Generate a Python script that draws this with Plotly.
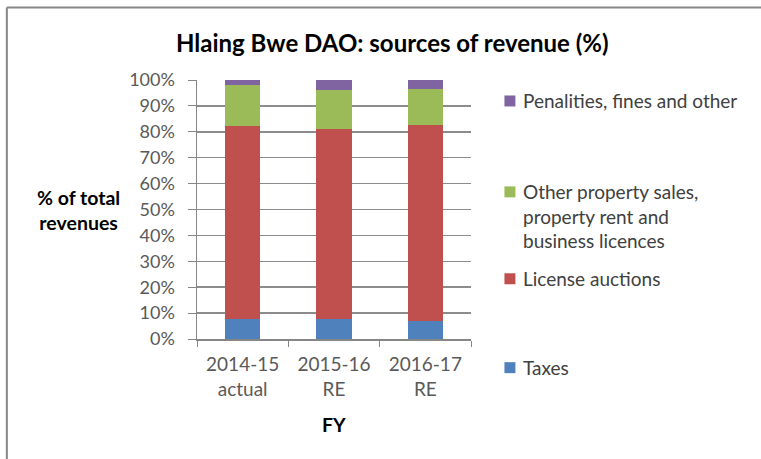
import plotly.graph_objects as go

categories = ["2014-15<br>actual", "2015-16<br>RE", "2016-17<br>RE"]
taxes = [7.7, 7.7, 6.9]
license_auctions = [74.6, 73.3, 75.7]
other_property = [15.9, 15.2, 13.9]
penalties = [1.8, 3.8, 3.5]

series_names = ["Taxes", "License auctions",
                "Other property sales,<br>property rent and<br>business licences",
                "Penalities, fines and other"]
series_values = [taxes, license_auctions, other_property, penalties]
series_colors = ["#4F81BD", "#C0504D", "#9BBB59", "#8064A2"]

W, H = 761, 459
L, R, T, B = 197, 471.5, 80, 339.3
FONT = "Lato"


def px2x(px):
    return (px - L) / (R - L)


def px2y(py):
    return (B - py) / (B - T)


fig = go.Figure()
for name, vals, col in zip(series_names, series_values, series_colors):
    fig.add_trace(go.Bar(x=categories, y=vals, name=name, marker_color=col,
                         marker_line_width=0, width=0.39, showlegend=False))

annotations = []
shapes = []

# Title
annotations.append(dict(text="<b>Hlaing Bwe DAO: sources of revenue (%)</b>",
                        x=px2x(393), y=px2y(42), xref="paper", yref="paper",
                        showarrow=False, xanchor="center", yanchor="middle",
                        font=dict(family=FONT, size=24, color="#000000")))
# Y axis title
annotations.append(dict(text="<b>% of total<br>revenues</b>",
                        x=px2x(78), y=px2y(210), xref="paper", yref="paper",
                        showarrow=False, xanchor="center", yanchor="middle",
                        font=dict(family=FONT, size=19.5, color="#000000")))
# X axis title
annotations.append(dict(text="<b>FY</b>",
                        x=px2x(334), y=px2y(425), xref="paper", yref="paper",
                        showarrow=False, xanchor="center", yanchor="middle",
                        font=dict(family=FONT, size=19.5, color="#000000")))

# Legend (Excel-style spacing)
legend_items = [
    ("Penalities, fines and other", "#8064A2", 101, 101),
    ("Other property sales,<br>property rent and<br>business licences", "#9BBB59", 216, 192),
    ("License auctions", "#C0504D", 279, 279),
    ("Taxes", "#4F81BD", 368, 368),
]
for text, col, ycenter, ymark in legend_items:
    annotations.append(dict(text=text, x=px2x(522), y=px2y(ycenter), xref="paper", yref="paper",
                            showarrow=False, xanchor="left", yanchor="middle", align="left",
                            font=dict(family=FONT, size=19, color="#404040")))
    shapes.append(dict(type="rect", xref="paper", yref="paper",
                       x0=px2x(505), x1=px2x(516), y0=px2y(ymark - 5.5), y1=px2y(ymark + 5.5),
                       fillcolor=col, line=dict(width=0)))

# Outer chart border (top and left visible)
shapes.append(dict(type="line", xref="paper", yref="paper",
                   x0=px2x(6.5), x1=px2x(800), y0=px2y(7.5), y1=px2y(7.5),
                   line=dict(color="#878787", width=2)))
shapes.append(dict(type="line", xref="paper", yref="paper",
                   x0=px2x(6.5), x1=px2x(6.5), y0=px2y(7.5), y1=px2y(500),
                   line=dict(color="#878787", width=2)))

fig.update_layout(
    barmode="stack",
    width=W, height=H,
    margin=dict(l=L, r=W - R, t=T, b=H - B, autoexpand=False),
    paper_bgcolor="white", plot_bgcolor="white",
    annotations=annotations, shapes=shapes,
    showlegend=False,
    font=dict(family=FONT, size=18, color="#595959"),
)
fig.update_xaxes(showline=True, linecolor="#868686", linewidth=1.5,
                 ticks="outside", tickson="boundaries", ticklen=6, tickcolor="#868686",
                 ticklabelstandoff=8,
                 tickfont=dict(family=FONT, size=19, color="#595959"),
                 showgrid=False, fixedrange=True)
fig.update_yaxes(range=[0, 100], dtick=10, ticksuffix="%",
                 showline=True, linecolor="#868686", linewidth=1.5,
                 ticks="outside", ticklen=8, tickcolor="#868686",
                 ticklabelstandoff=9,
                 tickfont=dict(family=FONT, size=18, color="#595959"),
                 showgrid=True, gridcolor="#8C8C8C", gridwidth=1.5,
                 zeroline=False, fixedrange=True)

fig.write_html("out.html",
               config={"displayModeBar": False, "staticPlot": True},
               post_script="document.body.style.margin='0';document.body.style.overflow='hidden';")
